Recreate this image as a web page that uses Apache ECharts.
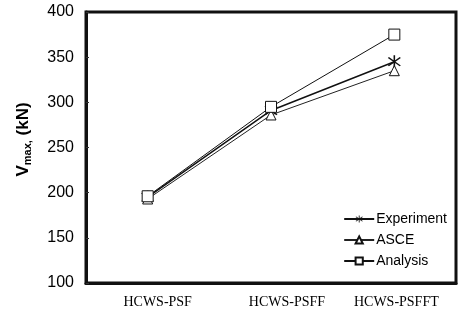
<!DOCTYPE html>
<html>
<head>
<meta charset="utf-8">
<script src="https://cdn.jsdelivr.net/npm/echarts@6/dist/echarts.min.js"></script>
<style>html,body{margin:0;padding:0;background:#fff;}#c{width:461px;height:322px;}</style>
</head>
<body>
<div id="c"></div>
<script>
var categories = ['HCWS-PSF', 'HCWS-PSFF', 'HCWS-PSFFT'];
var experiment = [195, 291, 345];
var asce = [193, 286, 335];
var analysis = [196, 295, 375];
var yTicks = [100, 150, 200, 250, 300, 350, 400];

var asterisk = 'path://M-1,-10L1,-10L1,10L-1,10Z M-8.3,-5.8L-6.9,-7.2L8.3,5.8L6.9,7.2Z M6.9,-7.2L8.3,-5.8L-6.9,7.2L-8.3,5.8Z';
var labelShift = [20, 32, 4];

var chart = echarts.init(document.getElementById('c'));
chart.setOption({
  animation: false,
  backgroundColor: '#fff',
  grid: { left: 86, right: 5, top: 12, bottom: 39, show: true, borderColor: '#111', borderWidth: 3, backgroundColor: 'transparent' },
  legend: {
    orient: 'vertical', right: 9, top: 207, itemWidth: 30, itemHeight: 9, itemGap: 7,
    textStyle: { fontFamily: 'Liberation Sans', fontSize: 14, color: '#000', padding: [0, 0, 0, -3] },
    data: ['Experiment', 'ASCE', 'Analysis']
  },
  xAxis: {
    type: 'category', data: categories, boundaryGap: true,
    axisLine: { lineStyle: { color: '#111', width: 3 } },
    axisTick: { show: false },
    axisLabel: { margin: 12, interval: 0, hideOverlap: false,
      formatter: function (v, i) { return '{l' + i + '|' + v + '}'; },
      rich: {
        l0: { fontFamily: 'Liberation Serif', fontSize: 14, color: '#000', padding: [0, 0, 0, labelShift[0]] },
        l1: { fontFamily: 'Liberation Serif', fontSize: 14, color: '#000', padding: [0, 0, 0, labelShift[1]] },
        l2: { fontFamily: 'Liberation Serif', fontSize: 14, color: '#000', padding: [0, 0, 0, labelShift[2]] }
      } }
  },
  yAxis: {
    type: 'value', min: 100, max: 400, interval: 50,
    name: '{b|V}{s|max,}{b| (kN)}', nameLocation: 'middle', nameGap: 53, nameRotate: 90,
    nameTextStyle: { padding: [0, 0, 0, 16], rich: {
      b: { fontFamily: 'Liberation Sans', fontWeight: 'bold', fontSize: 17, color: '#000' },
      s: { fontFamily: 'Liberation Sans', fontWeight: 'bold', fontSize: 11, color: '#000', verticalAlign: 'bottom', padding: [8, 0, 0, 0] }
    } },
    axisLine: { show: true, lineStyle: { color: '#111', width: 3 } },
    axisTick: { show: true, inside: true, length: 3, lineStyle: { color: '#333' } },
    splitLine: { show: false },
    axisLabel: { fontFamily: 'Liberation Sans', fontSize: 16, color: '#000', margin: 12,
      formatter: function (v) { return yTicks.indexOf(v) >= 0 ? String(v) : ''; } }
  },
  series: [
    { name: 'Experiment', type: 'line', data: experiment, symbol: asterisk, symbolSize: 13,
      lineStyle: { color: '#111', width: 1.5 }, itemStyle: { color: '#111' } },
    { name: 'ASCE', type: 'line', data: asce, symbol: 'triangle', symbolSize: 10,
      lineStyle: { color: '#222', width: 1 }, itemStyle: { color: '#fff', borderColor: '#111', borderWidth: 1 } },
    { name: 'Analysis', type: 'line', data: analysis, symbol: 'rect', symbolSize: 11,
      lineStyle: { color: '#111', width: 1 }, itemStyle: { color: '#fff', borderColor: '#111', borderWidth: 1 } }
  ]
});
</script>
</body>
</html>
